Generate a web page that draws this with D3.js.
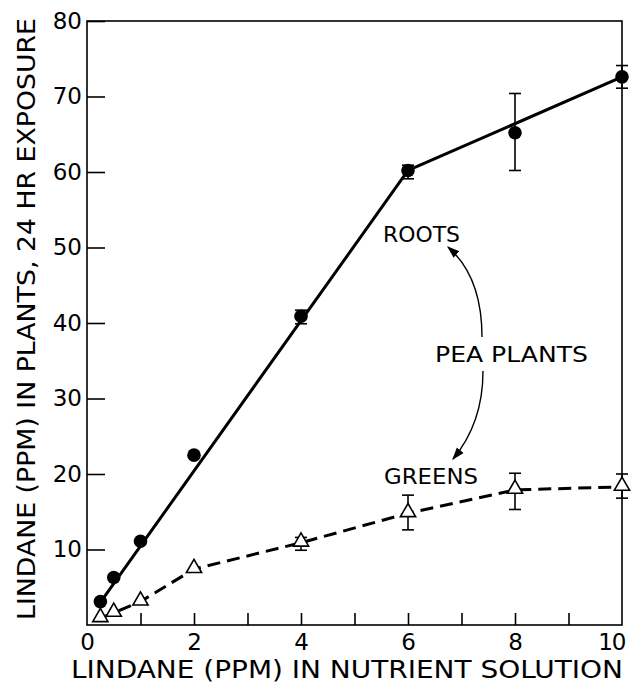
<!DOCTYPE html>
<html>
<head>
<meta charset="utf-8">
<script src="https://cdn.jsdelivr.net/npm/d3@7"></script>
<style>
  html, body { margin: 0; padding: 0; background: #fff; }
  svg { display: block; font-family: "DejaVu Sans", sans-serif; }
</style>
</head>
<body>
<div id="chart"></div>
<script>
// Lindane uptake by pea plants (roots vs greens), 24 hr exposure.

const conc = [0.25, 0.5, 1, 2, 4, 6, 8, 10];

// roots: filled circles, solid fitted line
const rootsVals = [3.1, 6.3, 11.1, 22.5, 40.9, 60.2, 65.2, 72.6];
const rootsErrHi = [null, null, null, null, 41.7, 60.9, 70.4, 74.1];
const rootsErrLo = [null, null, null, null, 39.9, 59.1, 60.2, 71.1];
const rootsFitX = [0.25, 6, 10];
const rootsFitY = [3.0, 60.2, 72.6];

// greens: open triangles, dashed line
const greensVals = [0.9, 1.6, 3.1, 7.4, 10.9, 14.8, 17.9, 18.3];
const greensErrHi = [null, null, null, null, 11.6, 17.2, 20.1, 20.0];
const greensErrLo = [null, null, null, null, 9.9, 12.6, 15.3, 16.8];

const xTicks = [0, 1, 2, 3, 4, 5, 6, 7, 8, 9, 10];
const xLabels = [0, 2, 4, 6, 8, 10];
const yTicks = [10, 20, 30, 40, 50, 60, 70, 80];

const W = 633, H = 685;
const m = { top: 21, right: 11, bottom: 60, left: 87 };

const svg = d3.select("#chart").append("svg")
  .attr("width", W).attr("height", H);

const x = d3.scaleLinear().domain([0, 10]).range([m.left, W - m.right]);
const y = d3.scaleLinear().domain([0, 80]).range([H - m.bottom, m.top]);

const ink = "#000";

// frame
svg.append("rect")
  .attr("x", x(0)).attr("y", y(80))
  .attr("width", x(10) - x(0)).attr("height", y(0) - y(80))
  .attr("fill", "none").attr("stroke", ink).attr("stroke-width", 1.6);

// left axis, ticks inward
svg.append("g")
  .attr("transform", `translate(${x(0)},0)`)
  .call(d3.axisLeft(y).tickValues(yTicks).tickSize(-18).tickPadding(5))
  .call((g) => g.select(".domain").remove())
  .call((g) => g.selectAll(".tick line").attr("stroke", ink).attr("stroke-width", 1.6))
  .selectAll("text").attr("fill", ink).style("font-size", "23px")
  .style("font-family", "DejaVu Sans, sans-serif");

// bottom axis: inward ticks at every unit
svg.append("g")
  .attr("transform", `translate(0,${y(0)})`)
  .call(d3.axisBottom(x).tickValues(xTicks.slice(1, -1)).tickSize(-12).tickFormat(""))
  .call((g) => g.select(".domain").remove())
  .selectAll(".tick line").attr("stroke", ink).attr("stroke-width", 1.6);

svg.append("g")
  .attr("transform", `translate(0,${y(0)})`)
  .call(d3.axisBottom(x).tickValues(xLabels).tickSize(0).tickPadding(9))
  .call((g) => g.select(".domain").remove())
  .selectAll("text").attr("fill", ink).style("font-size", "23px")
  .style("font-family", "DejaVu Sans, sans-serif")
  .filter((d) => d === 10)
  .attr("text-anchor", "end").attr("letter-spacing", "-1px").attr("dx", "3px");

// axis titles
svg.append("text")
  .attr("x", 347).attr("y", 678)
  .attr("text-anchor", "middle")
  .attr("textLength", 552).attr("lengthAdjust", "spacingAndGlyphs")
  .style("font-size", "25px").attr("fill", ink)
  .text("LINDANE (PPM) IN NUTRIENT SOLUTION");

svg.append("text")
  .attr("transform", "translate(35,319) rotate(-90)")
  .attr("text-anchor", "middle")
  .attr("textLength", 602).attr("lengthAdjust", "spacingAndGlyphs")
  .style("font-size", "25px").attr("fill", ink)
  .text("LINDANE (PPM) IN PLANTS, 24 HR EXPOSURE");

// lines
const rootsLine = d3.line().x((d) => x(d[0])).y((d) => y(d[1]));
svg.append("path")
  .datum(d3.zip(rootsFitX, rootsFitY))
  .attr("fill", "none").attr("stroke", ink).attr("stroke-width", 3)
  .attr("stroke-linejoin", "round")
  .attr("d", rootsLine);

svg.append("path")
  .datum(d3.zip(conc, greensVals))
  .attr("fill", "none").attr("stroke", ink).attr("stroke-width", 3)
  .attr("stroke-dasharray", "13,7")
  .attr("d", rootsLine);

// error bars
function errorBars(hi, lo) {
  const rows = conc.map((c, i) => ({ c, hi: hi[i], lo: lo[i] })).filter((d) => d.hi != null);
  const g = svg.append("g").attr("stroke", ink).attr("stroke-width", 1.6);
  g.selectAll("line.v").data(rows).join("line")
    .attr("x1", (d) => x(d.c)).attr("x2", (d) => x(d.c))
    .attr("y1", (d) => y(d.hi)).attr("y2", (d) => y(d.lo));
  ["hi", "lo"].forEach((k) => {
    g.selectAll("line." + k).data(rows).join("line")
      .attr("x1", (d) => x(d.c) - 6).attr("x2", (d) => x(d.c) + 6)
      .attr("y1", (d) => y(d[k])).attr("y2", (d) => y(d[k]));
  });
}
errorBars(rootsErrHi, rootsErrLo);
errorBars(greensErrHi, greensErrLo);

// markers
svg.append("g").selectAll("circle")
  .data(d3.zip(conc, rootsVals)).join("circle")
  .attr("cx", (d) => x(d[0])).attr("cy", (d) => y(d[1]))
  .attr("r", 6.8).attr("fill", ink);

const tri = d3.symbol().type(d3.symbolTriangle).size(100);
svg.append("g").selectAll("path")
  .data(d3.zip(conc, greensVals)).join("path")
  .attr("transform", (d) => `translate(${x(d[0])},${y(d[1]) - 1})`)
  .attr("d", tri)
  .attr("fill", "#fff").attr("stroke", ink).attr("stroke-width", 1.6);

// annotations
const ann = svg.append("g").attr("fill", ink).style("font-size", "21px");
ann.append("text").attr("x", 383).attr("y", 242)
  .attr("textLength", 77).attr("lengthAdjust", "spacingAndGlyphs").text("ROOTS");
ann.append("text").attr("x", 435).attr("y", 362)
  .attr("textLength", 153).attr("lengthAdjust", "spacingAndGlyphs").text("PEA PLANTS");
ann.append("text").attr("x", 384).attr("y", 484)
  .attr("textLength", 94).attr("lengthAdjust", "spacingAndGlyphs").text("GREENS");

svg.append("defs").append("marker")
  .attr("id", "arrow").attr("viewBox", "0 0 10 10")
  .attr("refX", 9).attr("refY", 5)
  .attr("markerWidth", 9).attr("markerHeight", 9)
  .attr("orient", "auto")
  .append("path").attr("d", "M0,1.5 L10,5 L0,8.5 Z").attr("fill", ink);

const arrows = [
  "M482,337 C482,300 472,268 448,247",
  "M483,371 C483,405 473,435 453,459",
];
svg.append("g").selectAll("path").data(arrows).join("path")
  .attr("d", (d) => d)
  .attr("fill", "none").attr("stroke", ink).attr("stroke-width", 1.4)
  .attr("marker-end", "url(#arrow)");
</script>
</body>
</html>
